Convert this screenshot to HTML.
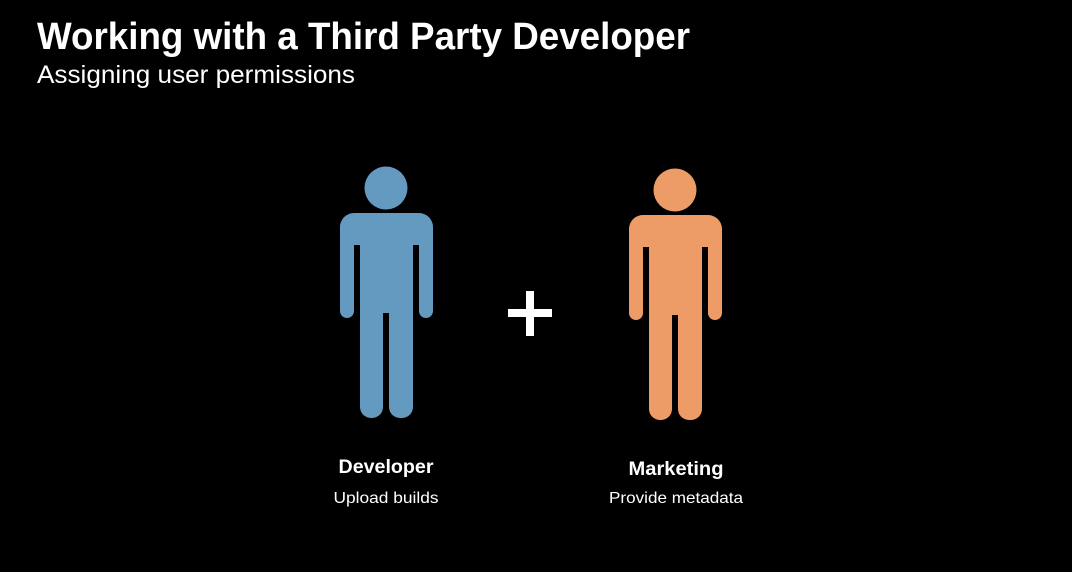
<!DOCTYPE html>
<html><head><style>
html,body{margin:0;padding:0;background:#000;}
svg{display:block}
text{font-family:"Liberation Sans",Arial,sans-serif;fill:#fff}
</style></head><body>
<svg width="1072" height="572" viewBox="0 0 1072 572" xmlns="http://www.w3.org/2000/svg">
<rect width="1072" height="572" fill="#000"/>
<text x="37" y="49" font-size="38" font-weight="bold" textLength="653" lengthAdjust="spacingAndGlyphs">Working with a Third Party Developer</text>
<text x="37" y="83" font-size="25" textLength="318" lengthAdjust="spacingAndGlyphs">Assigning user permissions</text>

<defs>
<g id="fig">
<circle cx="386" cy="188" r="21.5"/>
<rect x="340" y="213" width="93" height="32" rx="14"/>
<rect x="340" y="225" width="14" height="93" rx="7"/>
<rect x="419" y="225" width="14" height="93" rx="7"/>
<rect x="360" y="213" width="53" height="100"/>
<rect x="360" y="300" width="23" height="118" rx="11"/>
<rect x="389" y="300" width="24" height="118" rx="11"/>
</g>
</defs>
<use href="#fig" fill="#6499c0"/>
<use href="#fig" fill="#ee9c67" transform="translate(289,2)"/>

<rect x="508" y="309" width="44" height="8" fill="#fff"/>
<rect x="526" y="291" width="8" height="45" fill="#fff"/>

<text x="386" y="473" font-size="19" font-weight="bold" text-anchor="middle" textLength="95" lengthAdjust="spacingAndGlyphs">Developer</text>
<text x="386" y="503" font-size="16" text-anchor="middle" textLength="105" lengthAdjust="spacingAndGlyphs">Upload builds</text>
<text x="676" y="475" font-size="19" font-weight="bold" text-anchor="middle" textLength="95" lengthAdjust="spacingAndGlyphs">Marketing</text>
<text x="676" y="503" font-size="16" text-anchor="middle" textLength="134" lengthAdjust="spacingAndGlyphs">Provide metadata</text>
</svg>
</body></html>
